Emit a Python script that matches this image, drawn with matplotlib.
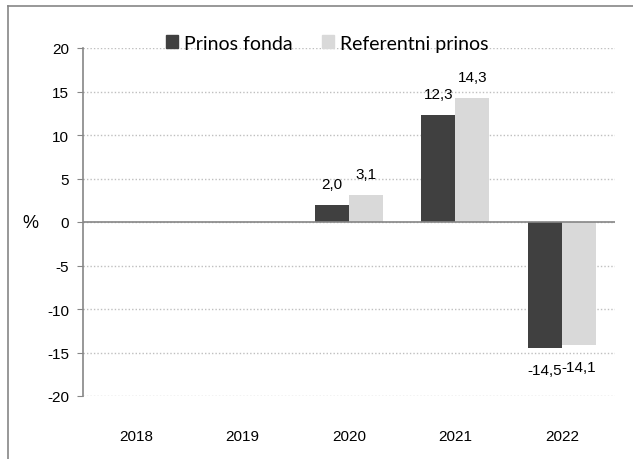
import matplotlib
matplotlib.use("Agg")
import matplotlib.pyplot as plt
import numpy as np
from matplotlib.lines import Line2D
from matplotlib.patches import Patch

years = ["2018", "2019", "2020", "2021", "2022"]
fund = [np.nan, np.nan, 2.0, 12.3, -14.5]
bench = [np.nan, np.nan, 3.1, 14.3, -14.1]
series_names = ["Prinos fonda", "Referentni prinos"]
yticks = [-20, -15, -10, -5, 0, 5, 10, 15, 20]

dark = "#404040"
light = "#d9d9d9"
axis_gray = "#868686"

fig = plt.figure(figsize=(6.33, 4.60), dpi=100)
fig.patch.set_facecolor("white")

# outer frame (top and left lines visible)
fig.add_artist(Line2D([8/633, 1.0], [1-7/460, 1-7/460], transform=fig.transFigure, color=axis_gray, lw=1.2))
fig.add_artist(Line2D([8/633, 8/633], [0.0, 1-7/460], transform=fig.transFigure, color=axis_gray, lw=1.2))

ax = fig.add_axes([83/633, 1-397/460, (615-83)/633, (397-49)/460])
x = np.arange(len(years))
w = 0.32
ax.bar(x - w/2, fund, w, color=dark, label=series_names[0], zorder=3)
ax.bar(x + w/2, bench, w, color=light, label=series_names[1], zorder=3)

def fmt(v):
    return f"{v:.1f}".replace(".", ",")

for vals, sh in ((fund, -w/2), (bench, w/2)):
    for xi, v in zip(x, vals):
        if not np.isnan(v):
            off = 15 if v >= 0 else -16
            ax.annotate(fmt(v), (xi + sh, v), xytext=(0, off), textcoords="offset points",
                        ha="center", va="center", fontsize=11, family="Liberation Sans", zorder=4)

ax.set_xlim(-0.5, len(years) - 0.5)
ax.set_ylim(-20, 20)
ax.set_yticks(yticks)
ax.set_yticklabels([str(t) for t in yticks], family="Liberation Sans", fontsize=11)
ax.set_xticks(x)
ax.set_xticklabels(years, family="Liberation Sans", fontsize=11)
ax.tick_params(axis="x", length=0, pad=24)
ax.tick_params(axis="y", length=4, color=axis_gray, pad=6, direction="out")

for s in ["top", "right", "bottom"]:
    ax.spines[s].set_visible(False)
ax.spines["left"].set_color(axis_gray)
ax.spines["left"].set_linewidth(1.2)

ax.grid(axis="y", linestyle=(0, (1, 1.5)), color="#bfbfbf", linewidth=1, zorder=0)
ax.axhline(0, color=axis_gray, lw=1.2, zorder=3.5)

ax.text((30-83)/532, 0.5, "%", transform=ax.transAxes, ha="center", va="center", fontsize=13, family="Liberation Sans")

handles = [Patch(color=dark), Patch(color=light)]
ax.legend(handles, series_names, loc="center", bbox_to_anchor=((327-83)/532, 1.014), ncol=2, frameon=False,
          prop={"family": "Lato", "size": 14}, handlelength=0.62, handleheight=0.62,
          handletextpad=0.32, columnspacing=1.5, borderaxespad=0, borderpad=0)

fig.savefig("out.png", dpi=100, facecolor="white")
